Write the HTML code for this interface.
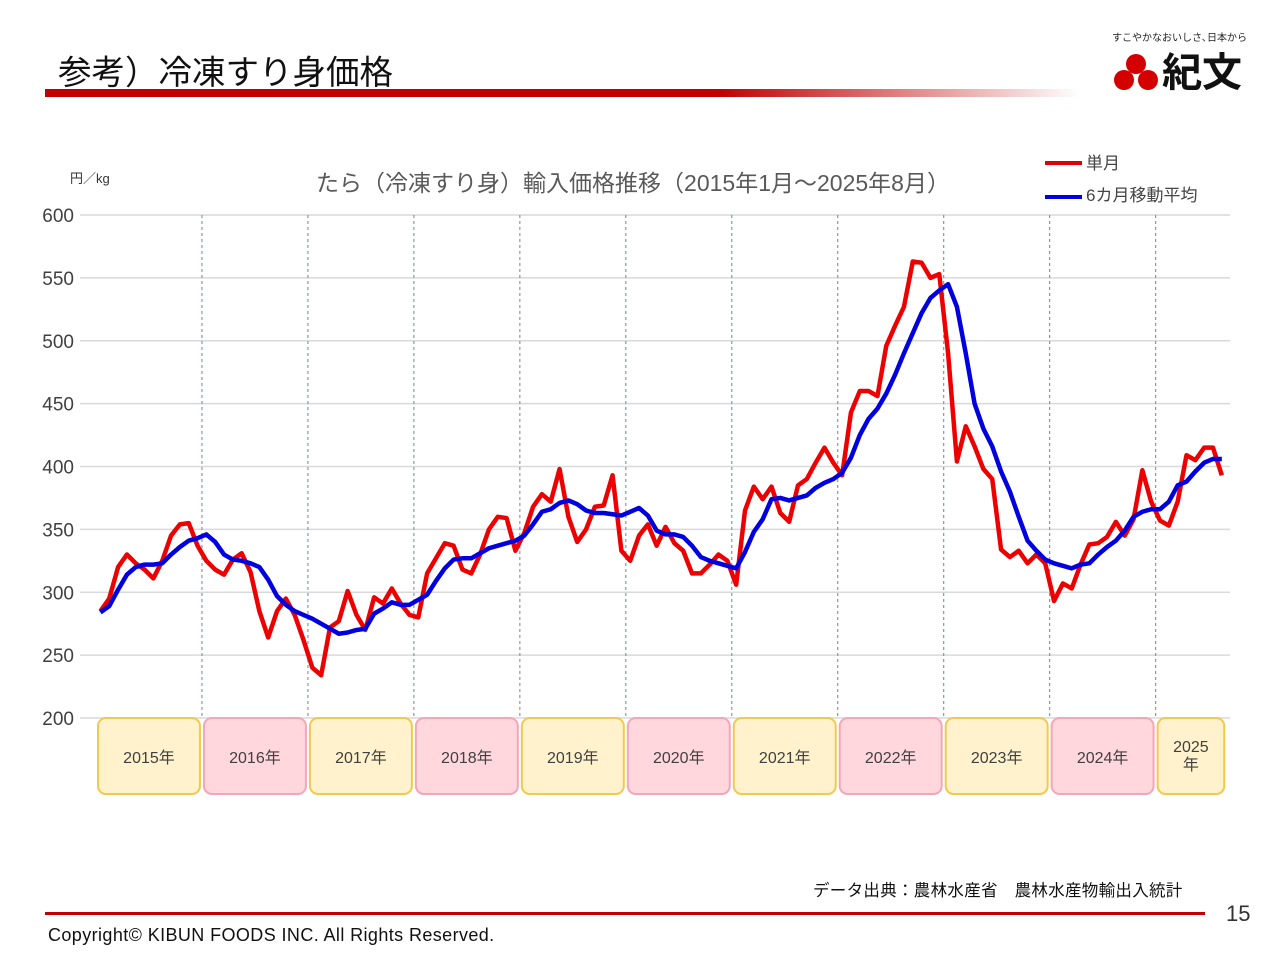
<!DOCTYPE html>
<html><head><meta charset="utf-8"><style>
body{margin:0;width:1280px;height:960px;background:#fff;font-family:"Liberation Sans","Noto Sans CJK JP",sans-serif;position:relative;overflow:hidden}
.abs{position:absolute}
</style></head><body>
<div class="abs" style="left:58px;top:45px;font-size:33.5px;color:#111;letter-spacing:0px">参考）冷凍すり身価格</div>
<div class="abs" style="left:45px;top:89px;width:1035px;height:8px;background:linear-gradient(90deg,#c00000 0%,#c00000 65%,rgba(200,0,0,0) 100%)"></div>
<div class="abs" style="left:1112px;top:29px;font-size:10px;color:#222">すこやかなおいしさ､日本から</div>
<div class="abs" style="left:1112px;top:50px;width:150px;height:48px">
<svg width="50" height="46"><circle cx="24" cy="14" r="10" fill="#d40000"/><circle cx="12" cy="30" r="10" fill="#d40000"/><circle cx="36" cy="30" r="10" fill="#d40000"/></svg>
<span style="position:absolute;left:50px;top:0;font-size:40px;font-weight:bold;color:#111;line-height:46px">紀文</span></div>

<svg class="abs" style="left:0;top:0" width="1280" height="960">
<g id="grid"></g><g id="series"></g>
<text x="633" y="191" font-size="23" fill="#595959" text-anchor="middle">たら（冷凍すり身）輸入価格推移（2015年1月～2025年8月）</text>
<text x="70" y="183" font-size="13" fill="#333">円／kg</text>
<line x1="1045" y1="163" x2="1082" y2="163" stroke="#e00000" stroke-width="4"/>
<text x="1086" y="169" font-size="17" fill="#444">単月</text>
<line x1="1045" y1="197" x2="1082" y2="197" stroke="#0000e0" stroke-width="4"/>
<text x="1086" y="201" font-size="17" fill="#444">6カ月移動平均</text>
</svg>

<div class="abs" style="left:813px;top:877px;font-size:16.5px;color:#111;letter-spacing:0.3px">データ出典：農林水産省　農林水産物輸出入統計</div>
<div class="abs" style="left:45px;top:912px;width:1160px;height:3px;background:#c00000"></div>
<div class="abs" style="left:1226px;top:901px;font-size:22px;color:#333">15</div>
<div class="abs" style="left:48px;top:925px;font-size:18px;color:#111;letter-spacing:0.4px">Copyright©  KIBUN FOODS INC. All Rights Reserved.</div>

<script>
const yTicks=[200,250,300,350,400,450,500,550,600];
const years=["2015年","2016年","2017年","2018年","2019年","2020年","2021年","2022年","2023年","2024年","2025\n年"];
const monthly=[285,295,320,330,323,318,311,325,345,354,355,337,
325,318,314,326,331,316,285,264,285,295,282,262,
240,234,272,277,301,282,270,296,291,303,291,282,
280,315,327,339,337,318,315,330,350,360,359,333,
347,368,378,372,398,360,340,350,368,369,393,333,
325,345,354,337,352,339,333,315,315,322,330,325,
306,365,384,374,384,363,356,385,390,403,415,403,
393,443,460,460,456,496,512,527,563,562,550,553,
490,404,432,416,398,390,334,328,333,323,330,323,
293,307,303,322,338,339,344,356,345,358,397,372,
357,353,372,409,405,415,415,393];
const movingAvg=[284,289,302,314,320,322,322,323,330,336,341,343,
346,340,330,326,325,323,320,310,297,290,285,282,
279,275,271,267,268,270,271,283,287,292,290,290,
294,298,309,319,326,327,327,331,335,337,339,341,
345,354,364,366,371,373,370,365,363,363,362,361,
364,367,361,349,346,346,344,337,328,325,323,321,
319,332,348,358,374,375,373,375,377,383,387,390,
395,407,425,438,446,458,473,490,506,522,534,540,
545,527,490,450,430,416,396,380,360,341,333,326,
323,321,319,322,323,330,336,341,349,360,364,366,
366,372,385,388,396,403,406,406];
const NS='http://www.w3.org/2000/svg';
const plotLeft=96,band=8.83,plotTop=215,plotBottom=718;
const X=i=>plotLeft+band*(i+0.5);
const Y=v=>plotBottom-(v-200)*(plotBottom-plotTop)/400;
const grid=document.getElementById('grid'),ser=document.getElementById('series');
function mk(tag,attrs,parent){const e=document.createElementNS(NS,tag);for(const k in attrs)e.setAttribute(k,attrs[k]);parent.appendChild(e);return e;}
yTicks.forEach(t=>{
 const l=mk('line',{x1:80,x2:1230,y1:Y(t),y2:Y(t),stroke:'#d9d9d9','stroke-width':1.5},grid);
 
 
 const tx=mk('text',{x:74,y:Y(t)+7,'font-size':19,fill:'#404040','text-anchor':'end'},grid);
 tx.textContent=t;
 
 
});
years.forEach((yr,k)=>{
 if(k>0){const d=mk('line',{x1:plotLeft+band*12*k,x2:plotLeft+band*12*k,y1:plotTop,y2:plotBottom,stroke:'#8497b0','stroke-width':1.2,'stroke-dasharray':'3,3'},grid);
 
 }
 const x0=plotLeft+band*12*k+2, w=(k==10?band*8:band*12)-4;
 const r=mk('rect',{x:x0,y:718,width:w,height:76,rx:8,fill:k%2?'#ffd7dc':'#fff2cc',stroke:k%2?'#f4a6b8':'#f2c94c','stroke-width':2},grid);
 
 
 const parts=yr.split('\n');
 parts.forEach((p,j)=>{
  const t=mk('text',{x:x0+w/2,y:parts.length>1?752+j*18:763,'font-size':16,fill:'#404040','text-anchor':'middle'},grid);
  t.textContent=p;
  
  
 });
});
function line(data,color,name){
 const p=mk('polyline',{points:data.map((v,i)=>X(i)+','+Y(v)).join(' '),fill:'none',stroke:color,'stroke-width':4.5,'stroke-linejoin':'round'},ser);
 
 
}
line(monthly,'#ee0000','single-month-line');
line(movingAvg,'#0000e0','moving-average-line');
</script>
</body></html>
